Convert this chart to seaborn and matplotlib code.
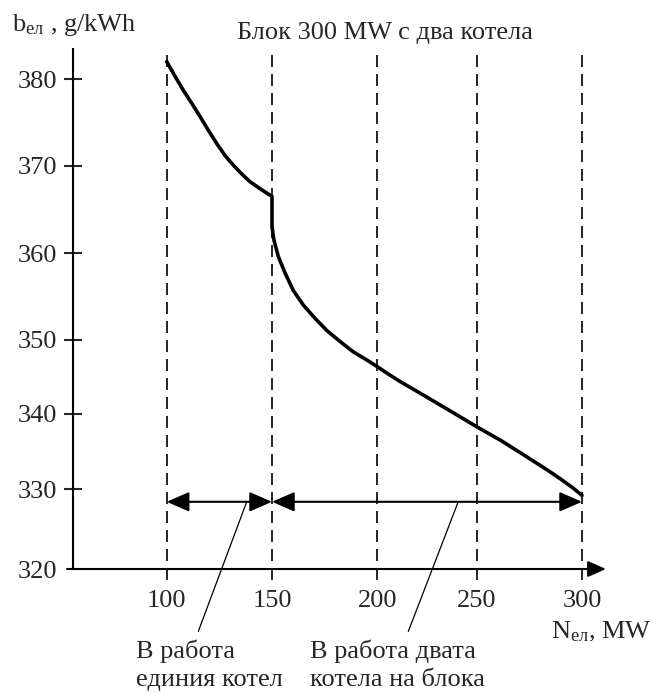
import numpy as np
import pandas as pd
import matplotlib
matplotlib.use("Agg")
import matplotlib.pyplot as plt
from matplotlib.patches import ArrowStyle
import seaborn as sns

# ---------------- data ----------------
power_mw = [100, 104.0, 107.9, 111.9, 115.8, 119.8, 123.7, 127.7, 131.6, 135.6, 139.5, 144.3, 150,
            150, 150.9, 153.0, 156.2, 160.1, 164.9, 170.4, 176.0, 182.3, 188.6, 195.0, 200, 205.5,
            211.4, 224.8, 237.4, 250, 261.9, 273.7, 283.2, 289.5, 295.9, 300]
spec_fuel = [382.0, 380.3, 378.7, 377.2, 375.7, 374.1, 372.6, 371.2, 370.1, 369.1, 368.2, 367.4, 366.5,
             363.0, 361.5, 359.6, 357.7, 355.7, 354.0, 352.5, 351.1, 349.8, 348.4, 347.3, 346.4, 345.4,
             344.4, 342.3, 340.3, 338.3, 336.4, 334.3, 332.6, 331.4, 330.1, 329.2]
x_ticks = [100, 150, 200, 250, 300]
y_ticks = [320, 330, 340, 350, 360, 370, 380]
one_boiler_range = [100, 150]
two_boiler_range = [150, 300]
range_level = 328.4

title_text = "Блок 300 MW с два котела"
ylabel_text = "b$_{\\mathrm{ел}}$ , g/kWh"
xlabel_text = "N$_{\\mathrm{ел}}$, MW"
label_one = "В работа\nединия котел"
label_two = "В работа двата\nкотела на блока"

# ---------------- style ----------------
sns.set_style("white")
plt.rcParams["font.family"] = ["Liberation Serif", "DejaVu Serif"]
plt.rcParams["mathtext.fontset"] = "custom"
plt.rcParams["mathtext.rm"] = "Liberation Serif"
plt.rcParams["mathtext.it"] = "Liberation Serif:italic"
plt.rcParams["mathtext.bf"] = "Liberation Serif:bold"
FS = 19

# hand-drawn (slightly non-uniform) axis graduations of the original figure
x_grad = [166.7, 272.0, 377.3, 476.7, 582.0]
y_grad = [-569.0, -489.0, -414.0, -340.0, -253.0, -166.0, -79.0]


def piecewise(xp, fp):
    xp = np.asarray(xp, float)
    fp = np.asarray(fp, float)

    def f(v):
        v = np.asarray(v, float)
        out = np.interp(v, xp, fp)
        lo = fp[0] + (v - xp[0]) * (fp[1] - fp[0]) / (xp[1] - xp[0])
        hi = fp[-1] + (v - xp[-1]) * (fp[-1] - fp[-2]) / (xp[-1] - xp[-2])
        out = np.where(v < xp[0], lo, out)
        out = np.where(v > xp[-1], hi, out)
        return out
    return f


W, H = 668, 693
fig = plt.figure(figsize=(W / 100, H / 100), dpi=100)
ax_l, ax_r, ax_t, ax_b = 73.3, 606.0, 48.0, 569.0
ax = fig.add_axes([ax_l / W, 1 - ax_b / H, (ax_r - ax_l) / W, (ax_b - ax_t) / H])

ax.set_xscale("function", functions=(piecewise(x_ticks, x_grad), piecewise(x_grad, x_ticks)))
ax.set_yscale("function", functions=(piecewise(y_ticks, y_grad), piecewise(y_grad, y_ticks)))
xinv = piecewise(x_grad, x_ticks)
yinv = piecewise(y_grad, y_ticks)
ax.set_xlim(float(xinv(ax_l)), float(xinv(ax_r)))
ax.set_ylim(float(yinv(-ax_b)), float(yinv(-ax_t)))

for s in ax.spines.values():
    s.set_visible(False)

# vertical dashed guide lines
y_low = float(yinv(-580.0))
ax.vlines(x_ticks, y_low, ax.get_ylim()[1], colors="black", linewidth=1.2,
          linestyles=(0, (7.2, 4.2)), clip_on=False, zorder=1)

# main curve
df = pd.DataFrame({"N": power_mw, "b": spec_fuel})
sns.lineplot(data=df, x="N", y="b", ax=ax, color="black", linewidth=2.6,
             sort=False, estimator=None, zorder=3)
for ln in ax.lines:
    ln.set_solid_joinstyle("round")
ax.set_xlabel("")
ax.set_ylabel("")

# axes lines
ax.plot([0, 0], [0, 1], transform=ax.transAxes, color="black", lw=1.5,
        clip_on=False, solid_capstyle="butt")
arrow_style = ArrowStyle("-|>", head_length=0.5, head_width=0.22)
ax.annotate("", xy=(1, 0), xytext=(-6.3 / (ax_r - ax_l), 0),
            xycoords="axes fraction", textcoords="axes fraction",
            arrowprops=dict(arrowstyle=arrow_style, color="black", lw=1.5,
                            shrinkA=0, shrinkB=0, mutation_scale=22))

# ticks
ax.set_xticks(x_ticks)
ax.set_xticklabels([str(v) for v in x_ticks], fontsize=FS)
ax.set_yticks(y_ticks)
ax.set_yticklabels([str(v) for v in y_ticks], fontsize=FS)
ax.xaxis.set_minor_locator(matplotlib.ticker.NullLocator())
ax.yaxis.set_minor_locator(matplotlib.ticker.NullLocator())
ax.tick_params(axis="x", length=0, pad=15, bottom=True)
ax.tick_params(axis="y", direction="inout", length=13, width=1.5, pad=5, left=True)
ax.yaxis.get_major_ticks()[0].tick1line.set_visible(False)
ax.grid(False)

# double-headed range arrows
dbl = ArrowStyle("<|-|>", head_length=0.55, head_width=0.24)
for rng in (one_boiler_range, two_boiler_range):
    ax.annotate("", xy=(rng[1], range_level), xytext=(rng[0], range_level),
                xycoords="data", textcoords="data",
                arrowprops=dict(arrowstyle=dbl, color="black", lw=1.5,
                                shrinkA=0, shrinkB=0, mutation_scale=25))

# leader lines to the captions
ax.plot([138.0, 115.0], [range_level, 312.2], color="black", lw=0.9, clip_on=False)
ax.plot([240.7, 215.6], [range_level, 312.2], color="black", lw=0.9, clip_on=False)

# texts
fig.text(385 / W, 1 - 33 / H, title_text, fontsize=FS, ha="center", va="center")
fig.text(12 / W, 1 - 25 / H, ylabel_text, fontsize=FS, ha="left", va="center")
fig.text(551 / W, 1 - 632 / H, xlabel_text, fontsize=FS, ha="left", va="center")
fig.text(136 / W, 1 - 665 / H, label_one, fontsize=FS, ha="left", va="center",
         linespacing=1.38)
fig.text(310 / W, 1 - 665 / H, label_two, fontsize=FS, ha="left", va="center",
         linespacing=1.38)

fig.savefig("out.png", dpi=100)
